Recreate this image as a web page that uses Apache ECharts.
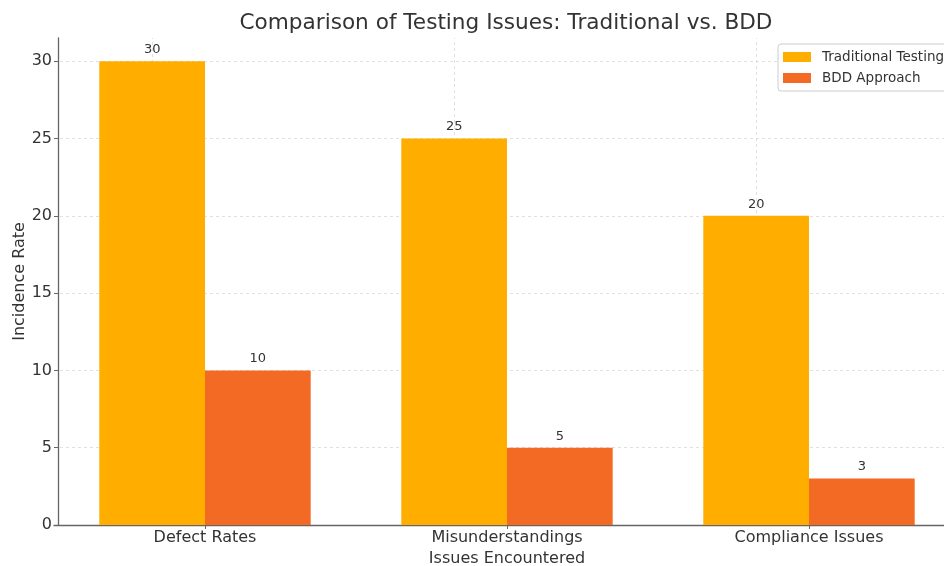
<!DOCTYPE html>
<html>
<head>
<meta charset="utf-8">
<script src="https://cdn.jsdelivr.net/npm/echarts@6/dist/echarts.min.js"></script>
<style>
html,body{margin:0;padding:0;background:#fff;}
#chart{width:944px;height:566px;}
</style>
</head>
<body>
<div id="chart"></div>
<script>
const categories = ['Defect Rates', 'Misunderstandings', 'Compliance Issues'];
const traditionalValues = [30, 25, 20];
const bddValues = [10, 5, 3];
const seriesNames = ['Traditional Testing', 'BDD Approach'];
const titleText = 'Comparison of Testing Issues: Traditional vs. BDD';
const xAxisName = 'Issues Encountered';
const yAxisName = 'Incidence Rate';

const FONT = '"DejaVu Sans", sans-serif';
const chart = echarts.init(document.getElementById('chart'), null, {renderer: 'canvas'});

const labelCfg = {
  show: true, position: 'top', distance: 5,
  color: '#333', fontSize: 13, fontFamily: FONT
};

chart.setOption({
  animation: false,
  backgroundColor: '#fff',
  title: {
    text: titleText,
    left: 501, top: 7, textAlign: 'center',
    textStyle: {fontFamily: FONT, fontSize: 21.6, fontWeight: 'normal', color: '#333'}
  },
  legend: {
    orient: 'vertical',
    left: 778, top: 44,
    data: seriesNames,
    icon: 'rect',
    itemWidth: 28, itemHeight: 10, itemGap: 7,
    padding: [6, 8, 6, 5],
    borderColor: '#ccc', borderWidth: 1, borderRadius: 3,
    backgroundColor: 'rgba(255,255,255,0.85)',
    textStyle: {fontFamily: FONT, fontSize: 13.5, color: '#333', padding: [0, 0, 0, 6]}
  },
  grid: {left: 54, top: 38, width: 906, height: 487, containLabel: false, outerBoundsMode: 'none'},
  xAxis: {
    type: 'category',
    data: categories,
    name: xAxisName,
    nameLocation: 'middle',
    nameGap: 26,
    nameMoveOverlap: false,
    nameTextStyle: {fontFamily: FONT, fontSize: 16, color: '#333'},
    axisLine: {show: true, lineStyle: {color: '#666', width: 1.3}},
    axisTick: {show: true, alignWithLabel: true, length: 4, lineStyle: {color: '#666'}},
    axisLabel: {fontFamily: FONT, fontSize: 16, color: '#333', margin: 5},
    splitLine: {show: false}
  },
  yAxis: {
    type: 'value',
    min: 0, max: 31.5, interval: 5,
    offset: -4,
    name: yAxisName,
    nameLocation: 'middle',
    nameGap: 30,
    nameMoveOverlap: false,
    nameTextStyle: {fontFamily: FONT, fontSize: 16, color: '#333'},
    axisLine: {show: true, lineStyle: {color: '#666', width: 1.3}},
    axisTick: {show: true, length: 4, lineStyle: {color: '#666'}},
    axisLabel: {fontFamily: FONT, fontSize: 16, color: '#333', margin: 6, showMaxLabel: false},
    splitLine: {show: true, showMaxLine: false, lineStyle: {color: '#d9d9d9', type: [3, 3], width: 0.8}}
  },
  series: [
    {
      name: seriesNames[0],
      type: 'bar',
      data: traditionalValues,
      barWidth: '35%',
      barGap: '0%',
      itemStyle: {color: '#FFAE00'},
      label: labelCfg,
      z: 2,
      markLine: {
        silent: true,
        symbol: 'none',
        z: 1,
        label: {show: false},
        lineStyle: {color: '#d9d9d9', type: [3, 3], width: 0.8},
        data: categories.map(c => ({xAxis: c}))
      }
    },
    {
      name: seriesNames[1],
      type: 'bar',
      data: bddValues,
      barWidth: '35%',
      barGap: '0%',
      itemStyle: {color: '#F26A24'},
      label: labelCfg,
      z: 2
    }
  ]
});
</script>
</body>
</html>
